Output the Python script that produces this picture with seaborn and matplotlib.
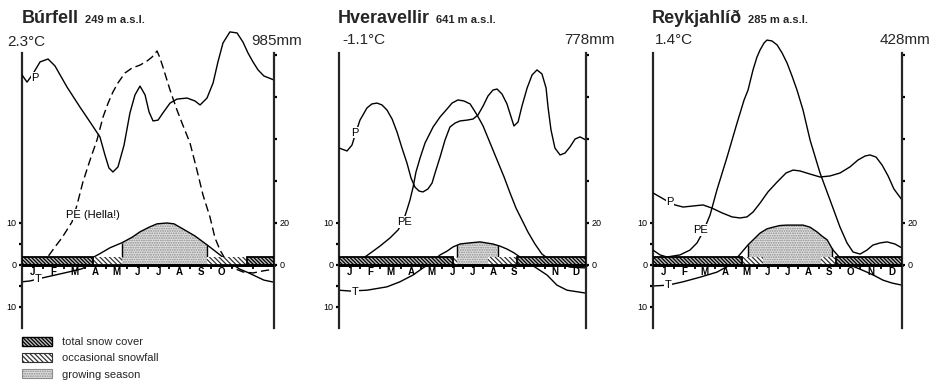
import numpy as np
import matplotlib
matplotlib.use("Agg")
import matplotlib.pyplot as plt
from matplotlib.patches import Rectangle, Patch
import seaborn as sns

sns.set_theme(style="ticks", context="notebook")
plt.rcParams["font.family"] = ["Liberation Sans", "DejaVu Sans"]
plt.rcParams["hatch.linewidth"] = 0.9
plt.rcParams["axes.linewidth"] = 1.5

# ------------------------------------------------------------------ data
stations = ["Búrfell", "Hveravellir", "Reykjahlíð"]
altitudes = ["249 m a.s.l.", "641 m a.s.l.", "285 m a.s.l."]
mean_temp = ["2.3°C", "-1.1°C", "1.4°C"]
annual_precip = ["985mm", "778mm", "428mm"]
month_letters = ["J", "F", "M", "A", "M", "J", "J", "A", "S", "O", "N", "D"]
month_shown = [
    [1, 1, 1, 1, 1, 1, 1, 1, 1, 1, 0, 0],
    [1, 1, 1, 1, 1, 1, 1, 1, 1, 0, 1, 1],
    [1, 1, 1, 1, 1, 1, 1, 1, 1, 1, 1, 1],
]
pe_labels = ["PE (Hella!)", "PE", "PE"]

# Búrfell  (month position, °C / mm)
burfell_T_month = [0, 0.38, 0.95, 1.57, 2.19, 2.86, 3.24, 3.38, 3.71, 4.19, 4.76, 5.24, 5.62,
                   6.05, 6.43, 6.90, 7.24, 7.52, 7.90, 8.24, 8.81, 9.43, 9.90, 10.38, 10.76,
                   11.14, 11.52, 12]
burfell_T = [-4.0, -3.8, -3.1, -2.4, -1.7, -0.9, 0.2, 1.8, 2.7, 4.1, 5.3, 6.6, 7.9,
             9.0, 9.8, 10.0, 9.8, 9.0, 7.9, 6.9, 4.8, 2.4, 0.5, -1.0, -1.8,
             -2.7, -3.6, -4.1]
burfell_P_month = [0, 0.24, 0.52, 0.86, 1.24, 1.57, 2.14, 2.76, 3.24, 3.71, 3.95, 4.14, 4.33,
                   4.57, 4.86, 5.14, 5.38, 5.62, 5.86, 6.05, 6.24, 6.48, 6.71, 7.05, 7.38,
                   7.86, 8.24, 8.48, 8.81, 9.10, 9.33, 9.57, 9.90, 10.24, 10.52, 10.76,
                   11.00, 11.24, 11.52, 12]
burfell_P = [90.5, 87.1, 91.0, 96.7, 98.1, 94.8, 84.8, 75.2, 68.1, 61.0, 52.4, 46.2, 44.3,
             46.7, 57.1, 72.4, 81.0, 85.2, 81.0, 72.9, 68.6, 69.0, 72.4, 77.1, 79.0,
             79.5, 78.1, 76.2, 79.5, 86.7, 96.7, 105.7, 111.0, 110.5, 106.2, 101.0,
             96.7, 92.9, 90.0, 88.1]
burfell_PE_month = [0.86, 1.19, 1.57, 1.90, 2.38, 2.62, 2.90, 3.24, 3.57, 3.86, 4.10, 4.33,
                    4.57, 4.90, 5.24, 5.62, 5.95, 6.19, 6.43, 6.57, 6.71, 7.05, 7.38, 7.62,
                    8.00, 8.33, 8.62, 8.95, 9.19, 9.43, 9.76, 10.05, 10.52, 11.00, 11.48, 12]
burfell_PE = [0.0, 3.3, 8.6, 12.9, 20.5, 28.6, 39.5, 50.0, 59.5, 70.5, 77.1, 82.4,
              86.7, 91.4, 93.8, 95.2, 97.1, 99.0, 101.9, 98.6, 94.3, 83.3, 73.8, 67.6,
              58.1, 45.2, 33.3, 22.9, 12.9, 7.1, 1.4, -1.4, -3.3, -3.8, -2.8, -2.0]
burfell_total_snow = [(0, 3.38), (10.7, 12)]
burfell_occ_snow = [(3.38, 4.76), (8.81, 10.7)]
burfell_growing = (4.76, 8.81)

# Hveravellir
hvera_T_month = [0, 0.53, 1.36, 2.33, 2.96, 3.59, 4.08, 4.52, 4.91, 5.25, 5.54, 5.88, 6.22,
                 6.85, 7.48, 7.82, 8.16, 8.50, 8.79, 9.14, 9.43, 10.11, 10.59, 11.08, 12]
hvera_T = [-6.0, -6.2, -6.0, -5.2, -4.0, -2.4, -0.7, 0.7, 2.4, 3.3, 4.3, 5.0, 5.2,
           5.5, 5.0, 4.5, 3.8, 2.9, 1.9, 0.7, -0.2, -2.4, -4.8, -6.0, -6.7]
hvera_P_month = [0, 0.39, 0.63, 0.78, 1.02, 1.36, 1.60, 1.85, 2.09, 2.33, 2.58, 2.82, 3.06,
                 3.30, 3.50, 3.69, 3.89, 4.08, 4.32, 4.52, 4.71, 4.91, 5.15, 5.39, 5.64,
                 5.88, 6.22, 6.51, 6.75, 7.00, 7.24, 7.48, 7.68, 7.92, 8.16, 8.36, 8.50,
                 8.70, 8.89, 9.14, 9.38, 9.62, 9.86, 10.06, 10.16, 10.30, 10.49, 10.74,
                 10.98, 11.22, 11.47, 11.71, 12]
hvera_P = [55.7, 54.3, 57.1, 61.9, 69.0, 74.8, 76.7, 77.1, 76.2, 73.8, 69.5, 63.3, 55.7,
           48.6, 41.4, 37.1, 35.2, 34.8, 36.2, 39.0, 45.2, 51.4, 59.5, 65.7, 67.6,
           68.6, 69.0, 69.5, 71.4, 75.7, 80.5, 83.3, 83.8, 81.4, 76.7, 70.5, 66.2,
           68.1, 75.7, 84.3, 90.5, 92.9, 91.0, 84.3, 74.8, 64.3, 55.7, 52.4,
           53.3, 56.2, 60.0, 61.0, 59.5]
hvera_PE_month = [0, 0.53, 0.92, 1.26, 1.60, 1.99, 2.48, 2.87, 3.11, 3.30, 3.45, 3.60, 3.74,
                  3.94, 4.18, 4.57, 4.91, 5.25, 5.49, 5.78, 6.07, 6.37, 6.71, 7.00, 7.34,
                  7.68, 8.02, 8.31, 8.60, 8.89, 9.18, 9.52, 9.86, 10.25, 10.74, 11.22, 12]
hvera_PE = [0.0, 1.0, 1.9, 3.8, 6.2, 9.0, 12.9, 16.7, 20.5, 26.2, 31.0, 37.1, 44.3,
            51.0, 58.1, 65.7, 70.5, 74.3, 77.1, 78.6, 78.1, 76.7, 71.4, 66.2, 58.1,
            50.0, 41.9, 34.3, 27.1, 21.4, 15.7, 10.0, 5.2, 2.4, 0.5, -1.0, -1.4]
hvera_total_snow = [(0, 5.54), (8.65, 12)]
hvera_occ_snow = [(5.54, 5.73), (7.24, 8.65)]
hvera_growing = (5.73, 7.72)

# Reykjahlíð
reykja_T_month = [0, 0.72, 1.45, 2.27, 3.08, 3.71, 4.05, 4.29, 4.58, 4.87, 5.16, 5.49, 5.78,
                  6.12, 6.46, 6.84, 7.23, 7.57, 7.90, 8.14, 8.39, 8.67, 9.01, 9.49, 9.98,
                  10.31, 10.70, 11.08, 11.52, 12]
reykja_T = [-5.0, -4.8, -4.0, -2.9, -1.7, 0.0, 1.7, 3.1, 4.8, 6.2, 7.6, 8.6, 9.0,
            9.4, 9.5, 9.5, 9.5, 9.0, 7.9, 6.9, 6.0, 3.6, 1.7, 0.0, -1.0,
            -1.7, -2.6, -3.6, -4.3, -4.8]
reykja_P_month = [0, 0.34, 0.67, 1.06, 1.45, 1.93, 2.41, 2.84, 3.33, 3.81, 4.19, 4.53, 4.82,
                  5.16, 5.54, 5.98, 6.41, 6.75, 7.08, 7.57, 8.05, 8.53, 9.01, 9.49, 9.88,
                  10.22, 10.46, 10.75, 11.04, 11.33, 11.61, 12]
reykja_P = [34.3, 32.4, 30.5, 28.6, 27.6, 28.1, 28.6, 27.1, 24.8, 22.9, 22.4, 22.9, 25.2,
            29.5, 34.8, 39.5, 43.8, 45.2, 44.8, 43.3, 41.9, 42.4, 43.8, 46.7, 50.0,
            51.9, 52.4, 51.4, 47.6, 42.4, 36.2, 31.0]
reykja_PE_month = [0, 0.34, 0.67, 1.30, 1.78, 2.12, 2.41, 2.75, 3.08, 3.57, 4.05, 4.39, 4.58,
                   4.82, 5.01, 5.16, 5.35, 5.49, 5.73, 5.98, 6.22, 6.46, 6.70, 6.94, 7.23,
                   7.57, 8.05, 8.53, 9.01, 9.35, 9.64, 9.98, 10.31, 10.60, 10.94, 11.28,
                   11.66, 12]
reykja_PE = [7.1, 4.8, 3.8, 4.8, 7.1, 10.5, 15.7, 23.8, 35.7, 51.4, 67.6, 78.6, 83.3,
             92.9, 99.0, 102.4, 105.7, 107.1, 106.7, 104.8, 101.0, 96.2, 90.0, 83.3, 73.8,
             59.5, 43.8, 31.0, 18.1, 10.5, 6.2, 5.2, 7.1, 9.5, 10.5, 11.0,
             10.0, 8.1]
reykja_total_snow = [(0, 4.29), (8.8, 12)]
reykja_occ_snow = [(4.29, 5.30), (8.1, 8.8)]
reykja_growing = (4.58, 8.63)

panels = [
    dict(Tx=burfell_T_month, T=burfell_T, Px=burfell_P_month, P=burfell_P,
         PEx=burfell_PE_month, PE=burfell_PE, total=burfell_total_snow,
         occ=burfell_occ_snow, grow=burfell_growing),
    dict(Tx=hvera_T_month, T=hvera_T, Px=hvera_P_month, P=hvera_P,
         PEx=hvera_PE_month, PE=hvera_PE, total=hvera_total_snow,
         occ=hvera_occ_snow, grow=hvera_growing),
    dict(Tx=reykja_T_month, T=reykja_T, Px=reykja_P_month, P=reykja_P,
         PEx=reykja_PE_month, PE=reykja_PE, total=reykja_total_snow,
         occ=reykja_occ_snow, grow=reykja_growing),
]

# ------------------------------------------------------------------ layout / style
W, H = 935, 391
fig = plt.figure(figsize=(W / 100, H / 100), dpi=100)


def fx(px):
    return px / W


def fy(py):
    return 1 - py / H


Y0_PX, PX_PER_UNIT = 265, 4.2
ylim = (-15.5, 60.0)
ax_bottom = fy(Y0_PX - PX_PER_UNIT * ylim[0])
ax_height = (ylim[1] - ylim[0]) * PX_PER_UNIT / H
panel_px = [(22, 274), (339, 586), (653, 902)]
title_px = [(22, 23), (338, 23), (652, 23)]
temp_px = [(7, 46), (342, 44), (655, 44)]
precip_px = [(302, 45), (615, 44), (930, 44)]
p_label_pos = [(0.62, 89), (0.78, 63), (0.82, 30)]
pe_label_pos = [(2.1, 24), (3.2, 20.5), (2.27, 16.7)]
t_label_pos = [(0.76, -3.4), (0.78, -6.4), (0.72, -4.8)]
pe_styles = [(0, (6, 3)), "-", "-"]
BAND = 4.0  # height of the snow band in mm (= 2 °C)

TOTAL_HATCH = "\\" * 9
OCC_HATCH = "\\" * 7
GROW_HATCH = "......."

for i, (pan, (l, r)) in enumerate(zip(panels, panel_px)):
    ax = fig.add_axes([fx(l), ax_bottom, fx(r - l), ax_height])
    ax.set_xlim(0, 12)
    ax.set_ylim(*ylim)
    ax2 = ax.twinx()
    ax2.set_ylim(2 * ylim[0], 2 * ylim[1])

    # growing season (stippled area under T)
    g0, g1 = pan["grow"]
    xf = np.linspace(g0, g1, 200)
    tf = np.interp(xf, pan["Tx"], pan["T"])
    ax.fill_between(xf, 0, tf, facecolor="#e2e2e2", hatch=GROW_HATCH,
                    edgecolor="#8c8c8c", linewidth=0, zorder=1)
    ax.vlines([g0, g1], 2, np.interp([g0, g1], pan["Tx"], pan["T"]),
              color="black", lw=1.0, zorder=3)

    # temperature
    sns.lineplot(x=pan["Tx"], y=pan["T"], ax=ax, color="black", lw=1.0,
                 estimator=None, sort=False, zorder=2)

    # precipitation and potential evapotranspiration
    sns.lineplot(x=pan["Px"], y=pan["P"], ax=ax2, color="black", lw=1.0,
                 estimator=None, sort=False, zorder=2)
    sns.lineplot(x=pan["PEx"], y=pan["PE"], ax=ax2, color="black", lw=1.0,
                 linestyle=pe_styles[i], estimator=None, sort=False, zorder=2)

    # snow bands
    for a, b in pan["occ"]:
        ax2.add_patch(Rectangle((a, 0), b - a, BAND, facecolor="white",
                                hatch=OCC_HATCH, edgecolor="#333333",
                                linewidth=0, zorder=5))
    for a, b in pan["total"]:
        ax2.add_patch(Rectangle((a, 0), b - a, BAND, facecolor="#bdbdbd",
                                hatch=TOTAL_HATCH, edgecolor="black",
                                linewidth=1.3, zorder=6))
    ax2.axhline(0, color="black", lw=2.0, zorder=7)

    # curve labels
    lab = dict(fontsize=8, color="black", ha="center", va="center", zorder=8,
               bbox=dict(facecolor="white", edgecolor="none", pad=0.6))
    ax2.text(*p_label_pos[i], "P", **lab)
    lab_pe = dict(lab)
    if i == 0:
        lab_pe["ha"] = "left"
    ax2.text(*pe_label_pos[i], pe_labels[i], **lab_pe)
    ax.text(*t_label_pos[i], "T", **lab)

    # axes styling
    for s in ["top", "right"]:
        ax.spines[s].set_visible(False)
    ax.spines["bottom"].set_position(("data", 0))
    ax.spines["bottom"].set_linewidth(2.0)
    ax.spines["left"].set_bounds(-15, 50.5)
    ax.spines["left"].set_linewidth(1.6)
    for s in ["top", "left", "bottom"]:
        ax2.spines[s].set_visible(False)
    ax2.spines["right"].set_bounds(-30, 101)
    ax2.spines["right"].set_linewidth(1.6)

    ax.set_xticks(range(1, 12))
    ax.set_xticks(np.arange(0.5, 12, 1), minor=True)
    ax.set_xticklabels([m if s else "" for m, s in zip(month_letters, month_shown[i])],
                       minor=True)
    ax.tick_params(axis="x", which="major", direction="out", length=3, width=1.3,
                   labelbottom=False, bottom=True, color="black")
    ax.tick_params(axis="x", which="minor", length=0, pad=1.5, labelsize=7,
                   bottom=True, labelcolor="black")
    for t in ax.get_xticklabels(minor=True):
        t.set_fontweight("bold")

    ax.set_yticks([-10, -5, 0, 5, 10])
    ax.set_yticklabels(["10", "", "0", "", "10"])
    ax.tick_params(axis="y", direction="out", length=2, width=1.6, labelsize=6.5,
                   pad=2, left=True, color="black", labelcolor="black")
    ax2.set_yticks([0, 20, 40, 60, 80, 100])
    ax2.set_yticklabels(["0", "20", "", "", "", ""])
    ax2.tick_params(axis="y", direction="out", length=2, width=1.6, labelsize=6.5,
                    pad=2, right=True, color="black", labelcolor="black")
    ax.set_xlabel("")
    ax.set_ylabel("")
    ax2.set_ylabel("")

    # headings
    tt = fig.text(fx(title_px[i][0]), fy(title_px[i][1]), stations[i], fontsize=13,
                  fontweight="bold", va="baseline", ha="left")
    plt.annotate(altitudes[i], xy=(1, 0), xycoords=tt, xytext=(4, 1.5),
                 textcoords="offset points", fontsize=8, fontweight="bold",
                 va="bottom", ha="left", annotation_clip=False)
    fig.text(fx(temp_px[i][0]), fy(temp_px[i][1]), mean_temp[i], fontsize=11,
             va="baseline", ha="left")
    fig.text(fx(precip_px[i][0]), fy(precip_px[i][1]), annual_precip[i], fontsize=11,
             va="baseline", ha="right")

# legend
handles = [
    Patch(facecolor="#bdbdbd", edgecolor="black", hatch=TOTAL_HATCH, linewidth=1.0),
    Patch(facecolor="white", edgecolor="#333333", hatch=OCC_HATCH, linewidth=0.8),
    Patch(facecolor="#e2e2e2", edgecolor="#8c8c8c", hatch=GROW_HATCH, linewidth=0.8),
]
labels = ["total snow cover", "occasional snowfall", "growing season"]
fig.legend(handles, labels, loc="upper left", bbox_to_anchor=(fx(22), fy(337)),
           frameon=False, fontsize=8, handlelength=2.7, handleheight=0.8,
           handletextpad=0.9, labelspacing=0.55, borderpad=0, borderaxespad=0)

fig.savefig("out.png", dpi=100)
